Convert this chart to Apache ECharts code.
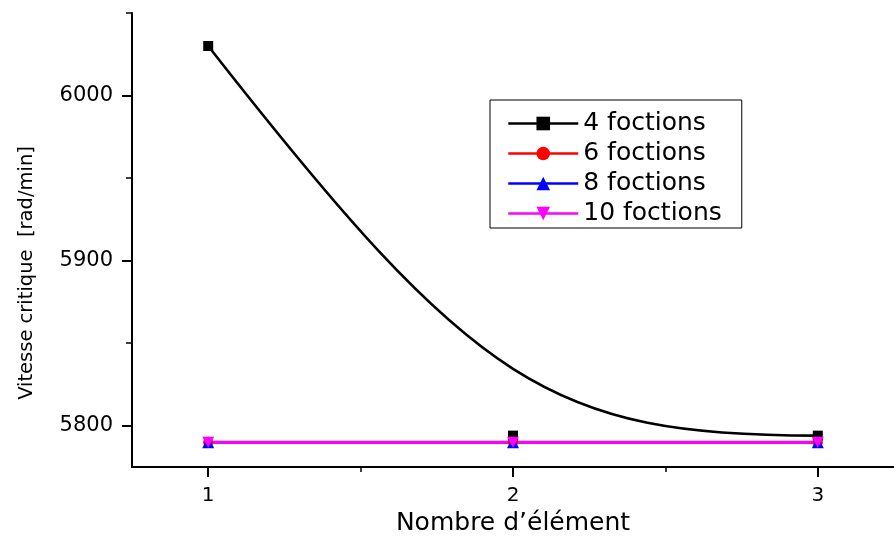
<!DOCTYPE html>
<html>
<head>
<meta charset="utf-8">
<script src="https://cdn.jsdelivr.net/npm/echarts@6/dist/echarts.min.js"></script>
<style>
html,body{margin:0;padding:0;background:#fff;}
#chart{width:894px;height:543px;}
</style>
</head>
<body>
<div id="chart"></div>
<script>
// ---- data ----
const xValues = [1, 2, 3];
const seriesNames = ['4 foctions', '6 foctions', '8 foctions', '10 foctions'];
const v4 = [6030, 5794, 5794];
const v6 = [5790, 5790, 5790];
const v8 = [5790, 5790, 5790];
const v10 = [5790, 5790, 5790];
const xTicks = [1, 2, 3];
const xMinorTicks = [1.5, 2.5];
const yTicks = [5800, 5900, 6000];
const yMinorTicks = [5850, 5950, 6050];

const FONT = 'DejaVu Sans';
const pairs = arr => xValues.map((x, i) => [x, arr[i]]);
const downTri = 'path://M0,0 L10,0 L5,9 Z';
const plain = v => String(v);

const chart = echarts.init(document.getElementById('chart'));

function baseX(extra) {
  return Object.assign({
    type: 'value', min: 0.75, max: 3.25, position: 'bottom',
    splitLine: {show: false}
  }, extra);
}
function baseY(extra) {
  return Object.assign({
    type: 'value', min: 5775, max: 6050, position: 'left',
    splitLine: {show: false}
  }, extra);
}

const option = {
  backgroundColor: '#fff',
  animation: false,
  grid: {left: 132, top: 13, right: -8, bottom: 76, containLabel: false},
  xAxis: [
    baseX({
      axisLine: {show: true, lineStyle: {color: '#000', width: 2}},
      axisTick: {show: true, customValues: xTicks, length: 10, lineStyle: {color: '#000', width: 2}},
      axisLabel: {show: true, customValues: xTicks, formatter: plain, margin: 19, fontSize: 20, fontFamily: FONT, color: '#000'},
      name: 'Nombre d\u2019élément', nameLocation: 'middle', nameGap: 41,
      nameTextStyle: {fontSize: 25, fontFamily: FONT, color: '#000'}
    }),
    baseX({
      axisLine: {show: false},
      axisTick: {show: true, customValues: xMinorTicks, length: 5, lineStyle: {color: '#000', width: 1.5}},
      axisLabel: {show: false}
    })
  ],
  yAxis: [
    baseY({
      axisLine: {show: true, lineStyle: {color: '#000', width: 2}},
      axisTick: {show: true, customValues: yTicks, length: 10, lineStyle: {color: '#000', width: 2}},
      axisLabel: {show: true, customValues: yTicks, formatter: plain, margin: 19, fontSize: 21, fontFamily: FONT, color: '#000'},
      name: 'Vitesse critique  [rad/min]', nameLocation: 'middle', nameGap: 95, nameRotate: 90,
      nameTextStyle: {fontSize: 19.5, fontFamily: FONT, color: '#000', padding: [0, 66, 0, 0]}
    }),
    baseY({
      axisLine: {show: false},
      axisTick: {show: true, customValues: yMinorTicks, length: 6, lineStyle: {color: '#000', width: 1.5}},
      axisLabel: {show: false}
    })
  ],
  legend: {
    orient: 'vertical', left: 490, top: 100,
    align: 'left',
    itemWidth: 70, itemHeight: 17, itemGap: 5,
    borderColor: '#000', borderWidth: 1, borderRadius: 0,
    padding: [11, 20, 2, 17],
    backgroundColor: '#fff',
    textStyle: {fontSize: 25, fontFamily: FONT, color: '#000'},
    data: [
      {name: seriesNames[0], lineStyle: {color: '#000', width: 2.5, opacity: 1}},
      {name: seriesNames[1], lineStyle: {color: '#ff0000', width: 2.5, opacity: 1}},
      {name: seriesNames[2], lineStyle: {color: '#0000ff', width: 2.5, opacity: 1}},
      {name: seriesNames[3], lineStyle: {color: '#ff00ff', width: 2.5, opacity: 1}}
    ]
  },
  series: [
    {
      type: 'custom',
      name: 'curve4',
      xAxisIndex: 0, yAxisIndex: 0,
      coordinateSystem: 'cartesian2d',
      data: [pairs(v4)[0]],
      silent: true,
      z: 1,
      renderItem: function (params, api) {
        if (params.dataIndex !== 0) return;
        const p = xValues.map((x, i) => api.coord([x, v4[i]]));
        const k = 0.876;
        return {
          type: 'bezierCurve',
          shape: {
            x1: p[0][0], y1: p[0][1],
            cpx1: p[0][0] + k * (p[1][0] - p[0][0]), cpy1: p[0][1] + k * (p[1][1] - p[0][1]),
            cpx2: p[2][0] + k * (p[1][0] - p[2][0]), cpy2: p[2][1] + k * (p[1][1] - p[2][1]),
            x2: p[2][0], y2: p[2][1]
          },
          style: {stroke: '#000', lineWidth: 2.6, fill: null}
        };
      }
    },
    {
      type: 'line', name: seriesNames[0], data: pairs(v4),
      symbol: 'rect', symbolSize: 10, z: 3,
      itemStyle: {color: '#000'},
      lineStyle: {width: 0, opacity: 0, color: '#000'}
    },
    {
      type: 'line', name: seriesNames[1], data: pairs(v6),
      symbol: 'circle', symbolSize: 10, z: 3,
      itemStyle: {color: '#ff0000'},
      lineStyle: {width: 2.5, color: '#ff0000'}
    },
    {
      type: 'line', name: seriesNames[2], data: pairs(v8),
      symbol: 'triangle', symbolSize: 12, z: 3,
      itemStyle: {color: '#0000ff'},
      lineStyle: {width: 2.5, color: '#0000ff'}
    },
    {
      type: 'line', name: seriesNames[3], data: pairs(v10),
      symbol: downTri, symbolSize: [12, 11], z: 3,
      itemStyle: {color: '#ff00ff'},
      lineStyle: {width: 3, color: '#ff00ff'}
    }
  ]
};
chart.setOption(option);
</script>
</body>
</html>
